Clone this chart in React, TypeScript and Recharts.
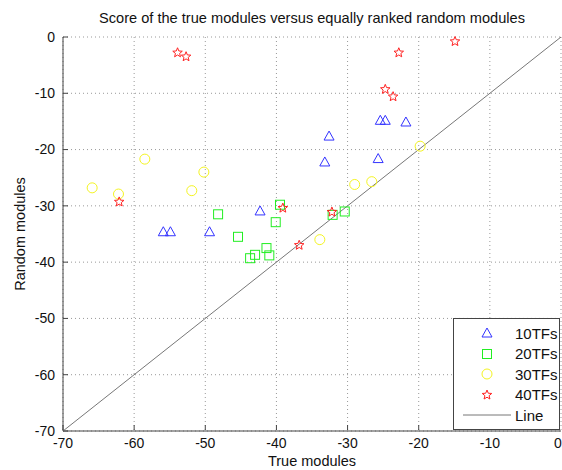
import { ScatterChart, Scatter, XAxis, YAxis, CartesianGrid } from 'recharts';

// values
const ticks = [-70, -60, -50, -40, -30, -20, -10, 0];

const tf10X = [-55.9, -54.9, -49.4, -42.3, -33.2, -32.6, -25.7, -25.4, -24.7, -21.8];
const tf10Y = [-34.6, -34.6, -34.6, -30.9, -22.2, -17.6, -21.6, -14.8, -14.8, -15.1];
const tf20X = [-48.2, -45.4, -43.0, -43.7, -41.4, -41.0, -40.1, -39.5, -32.1, -30.4];
const tf20Y = [-31.5, -35.5, -38.7, -39.3, -37.5, -38.8, -32.9, -29.8, -31.6, -31.0];
const tf30X = [-65.9, -62.2, -58.5, -51.9, -50.2, -33.9, -29.0, -26.6, -19.8];
const tf30Y = [-26.8, -27.9, -21.7, -27.3, -24.0, -36.0, -26.2, -25.7, -19.4];
const tf40X = [-53.9, -52.7, -62.1, -39.1, -36.8, -32.2, -24.7, -23.6, -22.8, -14.9];
const tf40Y = [-2.8, -3.5, -29.3, -30.4, -37.0, -31.1, -9.3, -10.6, -2.8, -0.8];
const lineX = [-70, 0];
const lineY = [-70, 0];

const pts = (xs: number[], ys: number[]) => xs.map((x, i) => ({ x, y: ys[i] }));

const BLUE = '#3333ff';
const GREEN = '#22ee22';
const YELLOW = '#f4f422';
const RED = '#ff2222';
const FONT = 'Liberation Sans, Arial, sans-serif';

const Tri = ({ cx, cy, c = BLUE }: any) => (
  <polygon points={`${cx},${cy - 5} ${cx - 5},${cy + 4} ${cx + 5},${cy + 4}`} fill="none" stroke={c} strokeWidth={1} />
);
const Sq = ({ cx, cy, c = GREEN }: any) => (
  <rect x={cx - 4.5} y={cy - 4.5} width={9} height={9} fill="none" stroke={c} strokeWidth={1} />
);
const Circ = ({ cx, cy, c = YELLOW }: any) => <circle cx={cx} cy={cy} r={5} fill="none" stroke={c} strokeWidth={1} />;
const Star = ({ cx, cy, c = RED }: any) => {
  const p: string[] = [];
  for (let i = 0; i < 10; i++) {
    const r = i % 2 === 0 ? 5 : 2.2;
    const a = -Math.PI / 2 + (i * Math.PI) / 5;
    p.push(`${cx + r * Math.cos(a)},${cy + r * Math.sin(a)}`);
  }
  return <polygon points={p.join(' ')} fill="none" stroke={c} strokeWidth={1} />;
};

const XTick = ({ x, y, payload }: any) => (
  <g>
    <line x1={x} x2={x} y1={y - 8} y2={y - 13} stroke="#444" />
    <text x={x} y={y} dy="0.71em" textAnchor="middle" fontSize={14} fontFamily={FONT} fill="#111">
      {payload.value}
    </text>
  </g>
);
const YTick = ({ x, y, payload }: any) => (
  <g>
    <line x1={x + 8} x2={x + 13} y1={y} y2={y} stroke="#444" />
    <text x={x} y={y} dy="0.35em" textAnchor="end" fontSize={14} fontFamily={FONT} fill="#111">
      {payload.value}
    </text>
  </g>
);
const TopTick = ({ x, y }: any) => <line x1={x} x2={x} y1={y} y2={y + 5} stroke="#444" />;
const RightTick = ({ x, y }: any) => <line x1={x} x2={x - 5} y1={y} y2={y} stroke="#444" />;

const legendRows = [
  { name: '10TFs', M: Tri },
  { name: '20TFs', M: Sq },
  { name: '30TFs', M: Circ },
  { name: '40TFs', M: Star },
];

const App = () => {
  return (
    <div style={{ position: 'absolute', left: 0, top: 0, width: 562, height: 470, background: '#fff' }}>
      <div
        style={{
          position: 'absolute', left: 63, width: 498, top: 10, textAlign: 'center',
          fontFamily: FONT, fontSize: 14.6, color: '#111', whiteSpace: 'nowrap',
        }}
      >
        Score of the true modules versus equally ranked random modules
      </div>
      <ScatterChart width={562} height={470} margin={{ top: 37, right: 1, bottom: 0, left: 0 }}>
        <CartesianGrid stroke="#999" strokeDasharray="1 3" />
        <XAxis
          type="number" dataKey="x" domain={[-70, 0]} ticks={ticks} height={39}
          axisLine={{ stroke: '#444' }} tickLine={false} tickSize={4} tickMargin={3} tick={<XTick />}
          label={{ value: 'True modules', position: 'insideBottom', offset: 4, fontSize: 14.5, fontFamily: FONT, fill: '#111' }}
        />
        <XAxis
          xAxisId="top" orientation="top" type="number" dataKey="x" domain={[-70, 0]} ticks={ticks} height={0}
          axisLine={{ stroke: '#444' }} tickLine={false} tickSize={0} tickMargin={0} tick={<TopTick />}
        />
        <YAxis
          type="number" dataKey="y" domain={[-70, 0]} ticks={ticks} width={63}
          axisLine={{ stroke: '#444' }} tickLine={false} tickSize={4} tickMargin={4} tick={<YTick />}
          label={{
            value: 'Random modules', angle: -90, position: 'insideLeft', offset: 20,
            style: { textAnchor: 'middle' }, fontSize: 14.5, fontFamily: FONT, fill: '#111',
          }}
        />
        <YAxis
          yAxisId="right" orientation="right" type="number" dataKey="y" domain={[-70, 0]} ticks={ticks} width={0}
          axisLine={{ stroke: '#444' }} tickLine={false} tickSize={0} tickMargin={0} tick={<RightTick />}
        />
        <Scatter name="Line" data={pts(lineX, lineY)} line={{ stroke: '#777', strokeWidth: 1 }} shape={() => <g />} isAnimationActive={false} />
        <Scatter name="10TFs" data={pts(tf10X, tf10Y)} shape={<Tri />} isAnimationActive={false} />
        <Scatter name="20TFs" data={pts(tf20X, tf20Y)} shape={<Sq />} isAnimationActive={false} />
        <Scatter name="30TFs" data={pts(tf30X, tf30Y)} shape={<Circ />} isAnimationActive={false} />
        <Scatter name="40TFs" data={pts(tf40X, tf40Y)} shape={<Star />} isAnimationActive={false} />
      </ScatterChart>
      <div
        style={{
          position: 'absolute', left: 453, top: 318, width: 107, height: 112, boxSizing: 'border-box',
          border: '1px solid #444', background: '#fff', fontFamily: FONT, fontSize: 15, color: '#111',
          paddingTop: 4,
        }}
      >
        {legendRows.map(({ name, M }) => (
          <div key={name} style={{ height: 20.5, display: 'flex', alignItems: 'center' }}>
            <svg width={60} height={20}>
              <M cx={33} cy={10} />
            </svg>
            <span style={{ marginLeft: 1 }}>{name}</span>
          </div>
        ))}
        <div style={{ height: 20.5, display: 'flex', alignItems: 'center' }}>
          <svg width={60} height={20}>
            <line x1={9} x2={57} y1={10} y2={10} stroke="#777" />
          </svg>
          <span style={{ marginLeft: 1 }}>Line</span>
        </div>
      </div>
    </div>
  );
};

export default App;
